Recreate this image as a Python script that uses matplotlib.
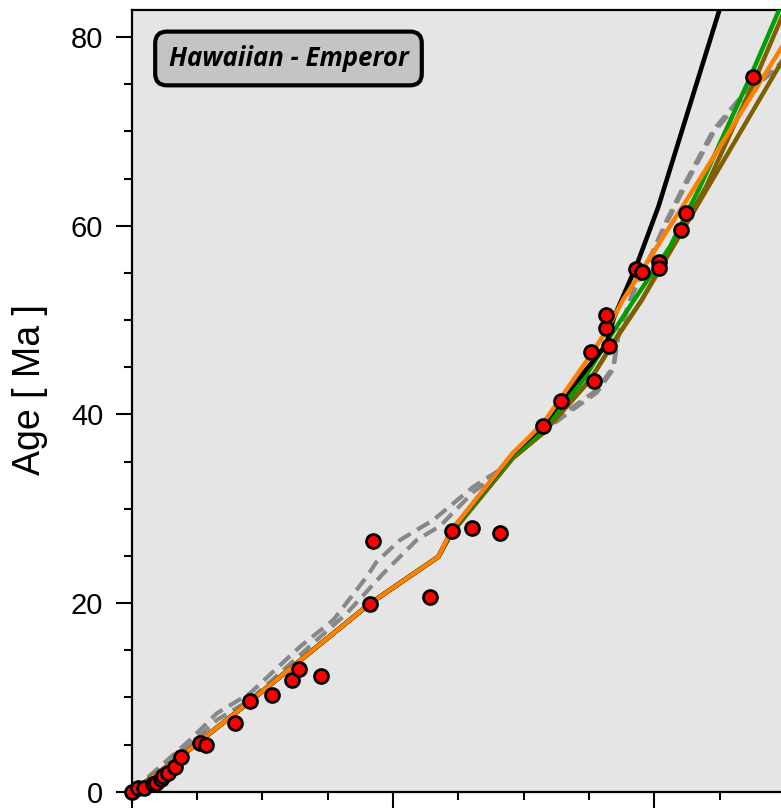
import matplotlib
matplotlib.use("Agg")
import matplotlib.pyplot as plt
from matplotlib.ticker import MultipleLocator

# ---- data (distance along chain [km], age [Ma]) ----
obs_km = [0, 51, 94, 165, 184, 222, 237, 280, 331, 375, 523, 569, 791, 909, 1072,
          1225, 1281, 1449, 1824, 1845, 2283, 2449, 2607, 2819, 3150, 3284, 3516,
          3541, 3630, 3630, 3656, 3860, 3904, 4037, 4037, 4202, 4240, 4758]
obs_age = [0.0, 0.42, 0.39, 0.82, 0.95, 1.31, 1.66, 1.95, 2.59, 3.71, 5.13, 4.95,
           7.25, 9.59, 10.27, 11.89, 12.98, 12.27, 19.90, 26.58, 20.59, 27.67, 27.95,
           27.39, 38.77, 41.45, 46.64, 43.54, 49.19, 50.53, 47.28, 55.38, 55.13,
           56.19, 55.49, 59.55, 61.32, 75.73]

common_km = [0, 375, 909, 1824, 2347]
common_age = [0.0, 3.73, 9.62, 19.95, 24.91]

black_km = common_km + [2449, 2918, 3150, 3286, 3630, 3692, 3865, 4031, 4498, 4540]
black_age = common_age + [27.70, 35.85, 38.85, 41.45, 47.36, 50.32, 55.84, 62.02, 82.87, 84.6]

orange_km = common_km + [2449, 2918, 3150, 3508, 3636, 3760, 4248, 4970, 5100]
orange_age = common_age + [27.74, 35.91, 39.09, 46.19, 48.95, 52.13, 62.73, 78.81, 81.7]

green_km = common_km + [2449, 2918, 3150, 3457, 3661, 3845, 4120, 4350, 4733, 4949, 4980]
green_age = common_age + [27.53, 35.59, 38.35, 43.65, 48.24, 52.13, 57.78, 64.14, 75.73, 82.69, 83.5]

brown1_km = common_km + [2449, 2918, 3150, 3508, 3699, 3904, 4396, 4778, 4993, 5030]
brown1_age = common_age + [27.43, 35.38, 38.04, 43.65, 47.89, 52.13, 64.14, 75.73, 82.69, 83.5]

brown2_km = common_km + [2449, 2918, 3150, 3508, 3699, 3904, 4970, 5100]
brown2_age = common_age + [27.43, 35.38, 38.04, 43.65, 47.89, 52.13, 77.27, 80.3]

gray1_km = [0, 446, 651, 905, 1288, 1543, 1799, 1875, 2054, 2308, 2615, 2819, 2921,
            3176, 3380, 3559, 3686, 3722, 3839, 3992, 4095, 4248, 4452, 4707, 4970, 5100]
gray1_age = [0.0, 5.48, 8.31, 10.43, 15.37, 18.20, 22.79, 24.38, 26.68, 28.80, 32.33,
             34.14, 35.91, 38.69, 40.81, 42.58, 45.05, 48.41, 53.18, 57.42, 60.60,
             64.85, 70.15, 74.39, 77.25, 78.6]

gray2_km = [0, 446, 651, 905, 1288, 1646, 1926, 2181, 2360, 2615, 2819, 2921,
            3176, 3380, 3559, 3686, 3722, 3839, 3992, 4095, 4248, 4452, 4707, 4970, 5100]
gray2_age = [0.0, 4.95, 7.60, 9.72, 14.49, 18.91, 23.15, 26.68, 28.17, 31.77, 33.89,
             35.70, 38.45, 40.55, 42.30, 44.80, 48.10, 52.90, 57.10, 60.30,
             64.55, 69.85, 74.10, 77.00, 78.4]

label_text = "Hawaiian - Emperor"

# ---- figure ----
W, H = 781, 810
fig = plt.figure(figsize=(W / 100, H / 100), dpi=100)
ax = fig.add_axes([131.7 / W, (H - 791.7) / H, 653.3 / W, (791.7 - 9.5) / H])
ax.set_facecolor("#e5e5e5")

dash = (0, (3.4, 1.8))
ax.plot(gray1_km, gray1_age, color="#888888", lw=3.0, ls=dash, zorder=1)
ax.plot(gray2_km, gray2_age, color="#888888", lw=3.0, ls=dash, zorder=1)
ax.plot(brown2_km, brown2_age, color="#7f5f00", lw=3.2, zorder=2, solid_joinstyle="round")
ax.plot(brown1_km, brown1_age, color="#7f5f00", lw=3.2, zorder=2, solid_joinstyle="round")
ax.plot(green_km, green_age, color="#00a000", lw=3.2, zorder=3, solid_joinstyle="round")
ax.plot(black_km, black_age, color="black", lw=3.3, zorder=4, solid_joinstyle="round")
ax.plot(orange_km, orange_age, color="#ff8000", lw=3.2, zorder=5, solid_joinstyle="round")

ax.plot(obs_km, obs_age, ls="none", marker="o", ms=10, mfc="#ff0000", mec="black",
        mew=2.0, zorder=6, clip_on=False)

ax.set_xlim(0, 5000)
ax.set_ylim(0, (791.7 - 9.5) / 9.433)

ax.xaxis.set_major_locator(MultipleLocator(2000))
ax.xaxis.set_minor_locator(MultipleLocator(500))
ax.yaxis.set_major_locator(MultipleLocator(20))
ax.yaxis.set_minor_locator(MultipleLocator(5))

ax.tick_params(which="major", length=11.5, width=1.5, direction="out", labelsize=21,
               pad=9)
ax.tick_params(which="minor", length=5.8, width=1.5, direction="out")
ax.tick_params(axis="x", which="both", labelbottom=False)
for lab in ax.get_yticklabels():
    lab.set_fontfamily("Liberation Sans")

for sp in ax.spines.values():
    sp.set_linewidth(1.6)

ax.set_ylabel("Age [ Ma ]", fontsize=27, fontfamily="Liberation Sans")
ax.yaxis.set_label_coords(-0.128, 0.514)

ax.text(0.24, 0.9374, label_text, transform=ax.transAxes, ha="center", va="center",
        fontsize=18.5, fontweight="bold", fontstyle="italic", fontfamily="Open Sans",
        bbox=dict(boxstyle="round,pad=0.52,rounding_size=0.45", fc="#c4c4c4",
                  ec="black", lw=3), zorder=10)

fig.savefig("out.png", dpi=100)
